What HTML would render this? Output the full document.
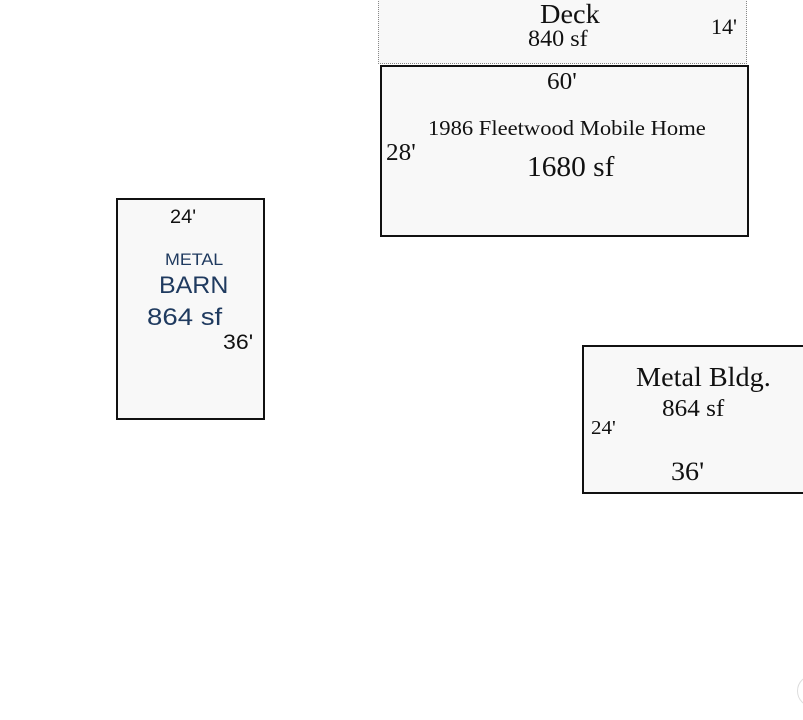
<!DOCTYPE html>
<html><head><style>
body{margin:0;width:803px;height:720px;background:#fff;position:relative;overflow:hidden}
.b{position:absolute;box-sizing:border-box;background:#f8f8f8}
.t{position:absolute;white-space:nowrap;font-family:"Liberation Serif",serif;color:#111;transform-origin:0 0}
.s{font-family:"Liberation Sans",sans-serif}
</style></head><body>
<div class="b" style="left:378px;top:-2px;width:369px;height:66px;border:1px dotted #888"></div>
<div class="b" style="left:380px;top:65px;width:369px;height:172px;border:2px solid #111"></div>
<div class="b" style="left:116px;top:198px;width:149px;height:222px;border:2px solid #111"></div>
<div class="b" style="left:582px;top:345px;width:224px;height:149px;border:2px solid #111"></div>

<div class="t" style="left:540px;top:-1px;font-size:27px;transform:scaleX(1.05)">Deck</div>
<div class="t" style="left:528px;top:26px;font-size:23px;transform:scaleX(1.05)">840 sf</div>
<div class="t" style="left:711px;top:14px;font-size:22px">14'</div>
<div class="t" style="left:547px;top:69px;font-size:24px;transform:scaleX(1.05)">60'</div>
<div class="t" style="left:428px;top:116px;font-size:21px;transform:scaleX(1.075)">1986 Fleetwood Mobile Home</div>
<div class="t" style="left:386px;top:140px;font-size:24px;transform:scaleX(1.05)">28'</div>
<div class="t" style="left:527px;top:152px;font-size:28px;transform:scaleX(1.05)">1680 sf</div>

<div class="t s" style="left:170px;top:207px;font-size:19px;transform:scaleX(1.05)">24'</div>
<div class="t s" style="left:165px;top:250px;font-size:17px;color:#1f3a5f;transform:scaleX(1.05)">METAL</div>
<div class="t s" style="left:159px;top:272px;font-size:24px;color:#1f3a5f;transform:scaleX(1.04)">BARN</div>
<div class="t s" style="left:147px;top:304px;font-size:24px;color:#1f3a5f;transform:scaleX(1.15)">864 sf</div>
<div class="t s" style="left:223px;top:331px;font-size:21px;transform:scaleX(1.1)">36'</div>

<div class="t" style="left:636px;top:362px;font-size:27px;transform:scaleX(1.045)">Metal Bldg.</div>
<div class="t" style="left:662px;top:396px;font-size:24px;transform:scaleX(1.05)">864 sf</div>
<div class="t" style="left:591px;top:417px;font-size:20px;transform:scaleX(1.05)">24'</div>
<div class="t" style="left:671px;top:457px;font-size:26px;transform:scaleX(1.08)">36'</div>
<div style="position:absolute;left:797px;top:675px;width:30px;height:30px;border:1px solid #ddd;border-radius:50%"></div>
</body></html>
